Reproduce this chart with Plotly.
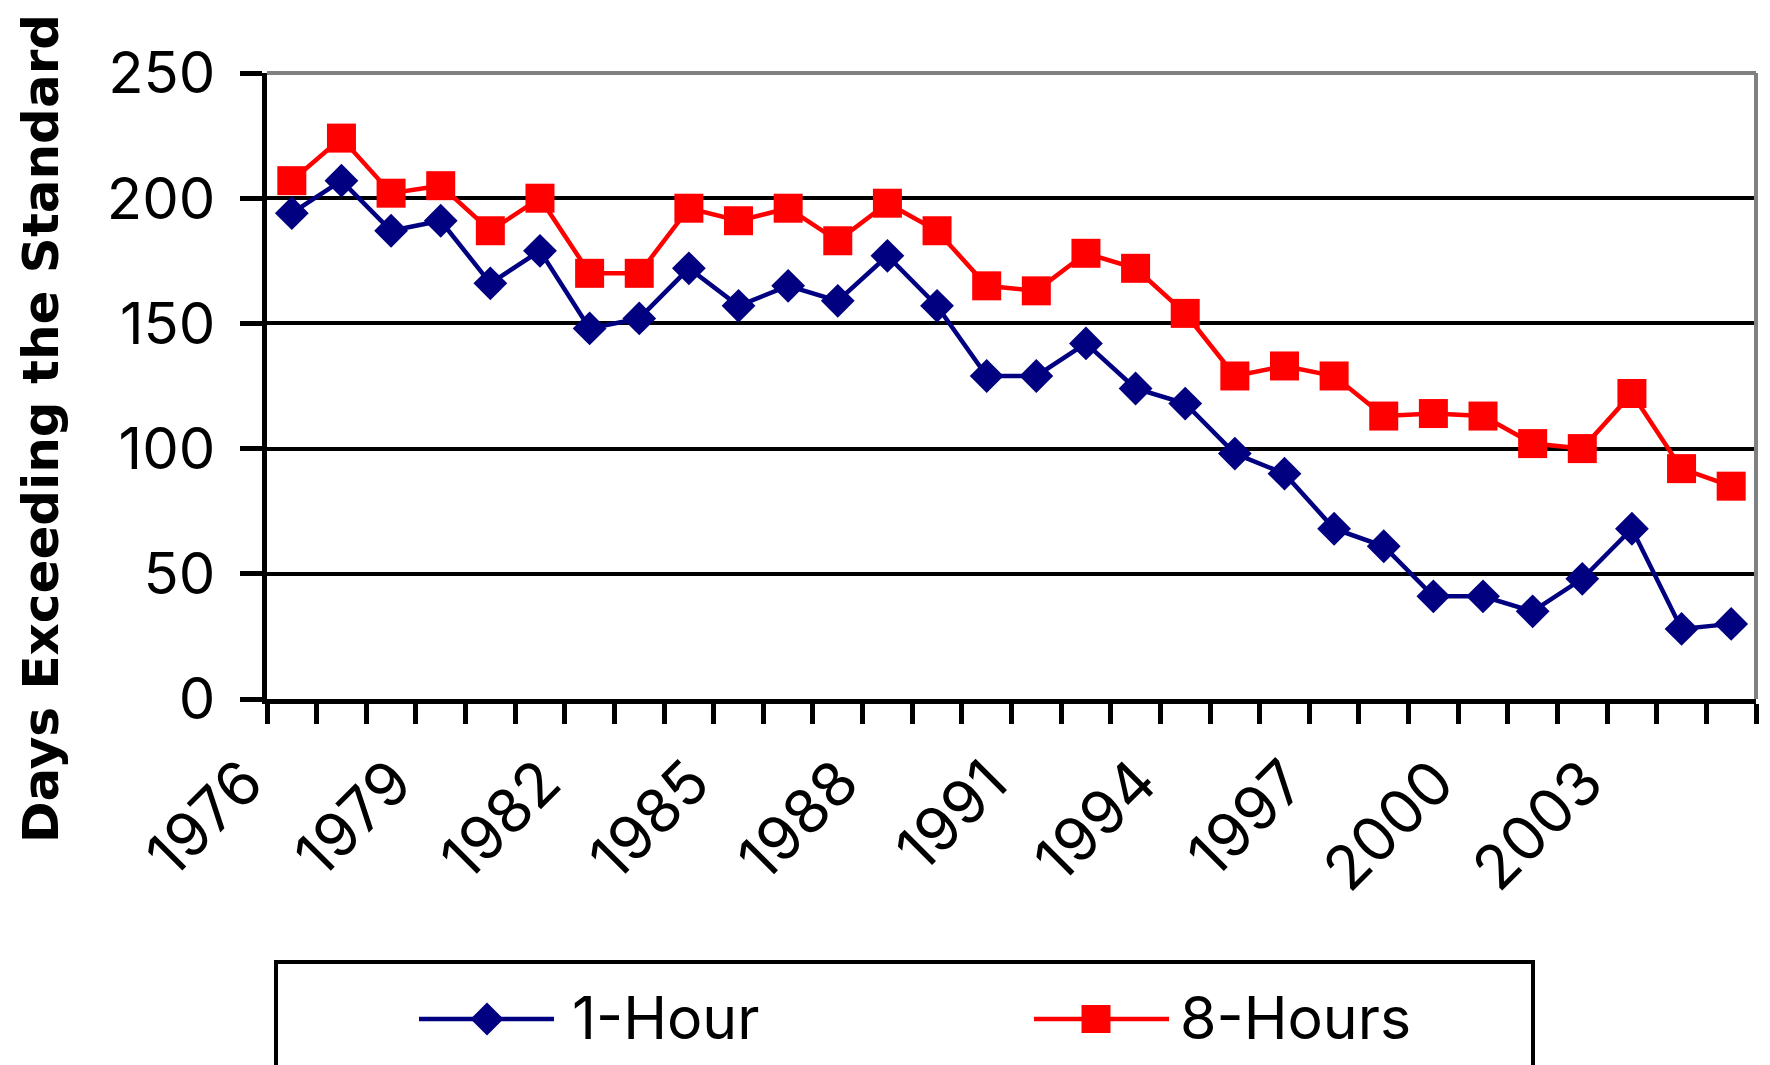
import plotly.graph_objects as go

# ---------------- data ----------------
years = list(range(1976, 2006))
one_hour = [194, 207, 187, 191, 166, 179, 148, 152, 172, 157,
            165, 159, 177, 157, 129, 129, 142, 124, 118, 98,
            90, 68, 61, 41, 41, 35, 48, 68, 28, 30]
eight_hours = [207, 224, 202, 205, 187, 200, 170, 170, 196, 191,
               196, 183, 198, 187, 165, 163, 178, 172, 154, 129,
               133, 129, 113, 114, 113, 102, 100, 122, 92, 85]
tick_years = years[::3]
tick_labels = [str(y) for y in tick_years]
y_ticks = [0, 50, 100, 150, 200, 250]
series_names = ["1-Hour", "8-Hours"]
y_title = "Days Exceeding the Standard"

# ---------------- layout geometry (page pixels) ----------------
OFF = 8                      # default body margin of the html page
W, H = 1770 - OFF, 1065 - OFF
PLOT_L, PLOT_R, PLOT_T, PLOT_B = 267, 1756, 73, 699   # target page pixels
ML, MT = PLOT_L - OFF, PLOT_T - OFF
MR = W - (PLOT_R - OFF)
MB = H - (PLOT_B - OFF)
PW = PLOT_R - PLOT_L
PH = PLOT_B - PLOT_T
FONT = "Inter, Liberation Sans, Arial, sans-serif"
TITLE_FONT = "DejaVu Sans, Liberation Sans, Arial, sans-serif"
NAVY = "#000080"
RED = "#FF0000"


def px_x(px):
    return (px - PLOT_L) / PW


def px_y(py):
    return (PLOT_B - py) / PH


fig = go.Figure()
fig.add_trace(go.Scatter(
    x=years, y=one_hour, name=series_names[0], mode="lines+markers",
    line=dict(color=NAVY, width=4.5),
    marker=dict(symbol="diamond", size=26, color=NAVY, line=dict(width=0)),
    showlegend=False,
))
fig.add_trace(go.Scatter(
    x=years, y=eight_hours, name=series_names[1], mode="lines+markers",
    line=dict(color=RED, width=4.5),
    marker=dict(symbol="square", size=29, color=RED, line=dict(width=0)),
    showlegend=False,
))

shapes = [
    # gray top and right frame
    dict(type="line", xref="paper", yref="paper", x0=0, x1=1, y0=1, y1=1,
         line=dict(color="#808080", width=4)),
    dict(type="line", xref="paper", yref="paper", x0=1, x1=1, y0=0, y1=1,
         line=dict(color="#808080", width=4)),
    # legend frame (runs off the bottom of the page)
    dict(type="rect", xref="paper", yref="paper",
         x0=px_x(276), x1=px_x(1533), y0=px_y(962), y1=px_y(1120),
         line=dict(color="black", width=4), fillcolor="rgba(0,0,0,0)"),
    # legend samples
    dict(type="line", xref="paper", yref="paper", x0=px_x(419), x1=px_x(554),
         y0=px_y(1019), y1=px_y(1019), line=dict(color=NAVY, width=4.5)),
    dict(type="path", xref="paper", yref="paper", xsizemode="pixel", ysizemode="pixel",
         xanchor=px_x(487), yanchor=px_y(1019),
         path="M -16.5 0 L 0 16.5 L 16.5 0 L 0 -16.5 Z",
         fillcolor=NAVY, line=dict(width=0)),
    dict(type="line", xref="paper", yref="paper", x0=px_x(1034), x1=px_x(1169),
         y0=px_y(1019), y1=px_y(1019), line=dict(color=RED, width=4.5)),
    dict(type="path", xref="paper", yref="paper", xsizemode="pixel", ysizemode="pixel",
         xanchor=px_x(1096), yanchor=px_y(1019),
         path="M -14.5 -14 L 14.5 -14 L 14.5 14 L -14.5 14 Z",
         fillcolor=RED, line=dict(width=0)),
]

annotations = [
    dict(text=y_title, textangle=-90, xref="paper", yref="paper",
         x=px_x(41), y=px_y(429), xanchor="center", yanchor="middle",
         showarrow=False, borderpad=0,
         font=dict(family=TITLE_FONT, size=50, color="black", weight="bold")),
    dict(text=series_names[0], xref="paper", yref="paper", x=px_x(570), y=px_y(1017),
         xanchor="left", yanchor="middle", showarrow=False,
         font=dict(family=FONT, size=59, color="black")),
    dict(text=series_names[1], xref="paper", yref="paper", x=px_x(1178), y=px_y(1017),
         xanchor="left", yanchor="middle", showarrow=False,
         font=dict(family=FONT, size=59, color="black")),
]

fig.update_layout(
    width=W, height=H,
    margin=dict(l=ML, r=MR, t=MT, b=MB, pad=0),
    paper_bgcolor="white", plot_bgcolor="white",
    showlegend=False,
    shapes=shapes, annotations=annotations,
    font=dict(family=FONT, color="black"),
    xaxis=dict(
        range=[years[0] - 0.5, years[-1] + 0.5],
        tickmode="array", tickvals=tick_years, ticktext=tick_labels,
        tickangle=-45, ticks="", showgrid=False, zeroline=False,
        showline=True, linecolor="black", linewidth=5,
        tickfont=dict(family=FONT, size=61, color="black"),
        ticklabelshift=-47, ticklabelstandoff=18,
        minor=dict(ticks="outside", tickmode="linear", tick0=years[0] - 0.5, dtick=1,
                   ticklen=20, tickwidth=5, tickcolor="black", showgrid=False),
    ),
    yaxis=dict(
        range=[y_ticks[0], y_ticks[-1]],
        tickmode="array", tickvals=y_ticks,
        ticks="outside", ticklen=22, tickwidth=5, tickcolor="black",
        showline=True, linecolor="black", linewidth=5,
        showgrid=True, gridcolor="black", gridwidth=4, zeroline=False,
        tickfont=dict(family=FONT, size=58, color="black"),
        ticklabelstandoff=13,
    ),
)

fig.write_html("out.html")
